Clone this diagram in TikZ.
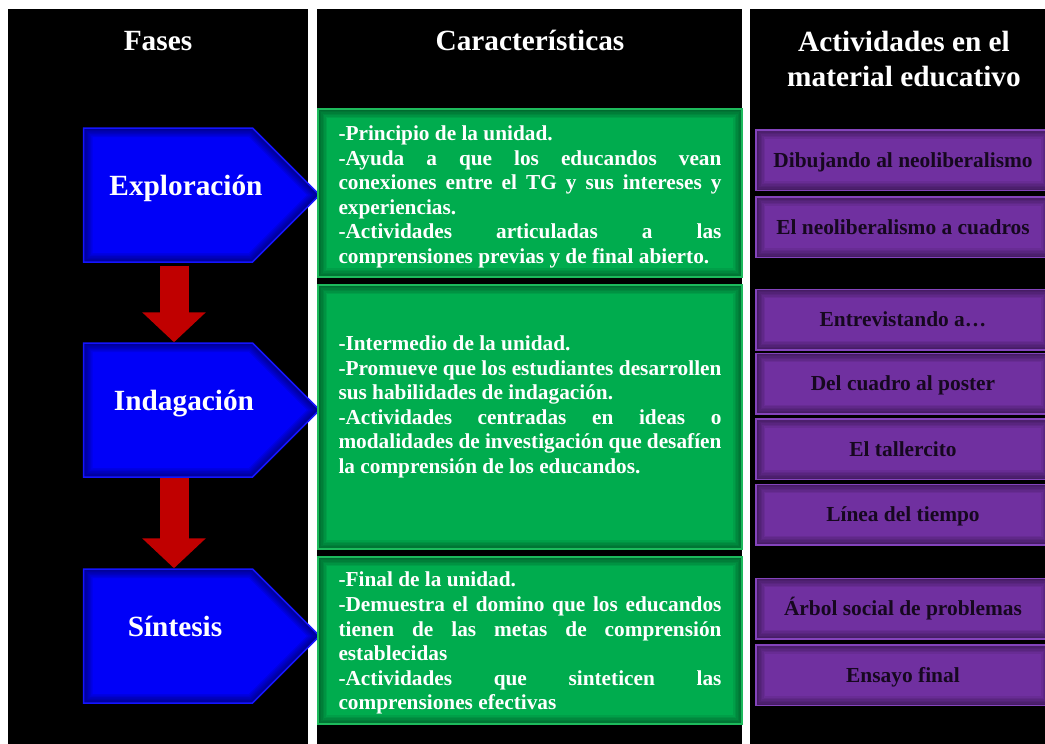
\documentclass[tikz,border=0pt]{standalone}
\usepackage{fontspec}
\setmainfont{Liberation Serif}
\usetikzlibrary{shapes.symbols,arrows.meta}

\definecolor{faseazul}{HTML}{0000F8}
\definecolor{fasebordo}{HTML}{1414FF}
\definecolor{carverde}{HTML}{00AC4E}
\definecolor{carbordo}{HTML}{1DBA5C}
\definecolor{actmorado}{HTML}{7030A0}
\definecolor{actbordo}{HTML}{8444BC}
\definecolor{acttexto}{HTML}{16081F}
\definecolor{flecharoja}{HTML}{C00000}

\tikzset{
  glow/.style={path picture={
      \foreach \k in {1,...,6}
        \draw[black, opacity=.07, line width=\k*3pt]
          (path picture bounding box.south west) rectangle (path picture bounding box.north east);}},
  faseglow/.style={path picture={
      \foreach \k in {1,...,6}
        \draw[black, opacity=.08, line width=\k*3pt]
          (path picture bounding box.north west) -- ([xshift=-67pt]path picture bounding box.north east)
          -- (path picture bounding box.east) -- ([xshift=-67pt]path picture bounding box.south east)
          -- (path picture bounding box.south west) -- cycle;}},
  titulo/.style={text=white, anchor=base, font=\fontsize{29.3}{35}\selectfont\bfseries},
  fase/.style={signal, signal to=east, signal pointer angle=90, minimum width=236pt,
    minimum height=134pt, fill=faseazul, draw=fasebordo, line width=1.5pt, faseglow},
  fasetxt/.style={text=white, anchor=base, font=\fontsize{29.3}{35}\selectfont\bfseries},
  bajada/.style={flecharoja, line width=29pt, -{Triangle[width=62pt,length=30pt]}},
  carbox/.style={fill=carverde, draw=carbordo, line width=1.5pt, glow, minimum width=424pt,
    text=white, text width=383pt, align=justify, font=\fontsize{21.3}{24.6}\selectfont\bfseries},
  actbox/.style={fill=actmorado, draw=actbordo, line width=1.5pt, glow, minimum width=294pt,
    minimum height=60.5pt, text=acttexto, text height=14pt, text depth=0pt,
    font=\fontsize{21.4}{25}\selectfont\bfseries}
}

\begin{document}
\begin{tikzpicture}[x=1pt,y=-1pt]
  \useasboundingbox (0,0) rectangle (1045,744);
  \clip (0,0) rectangle (1045,744);
  \fill[white] (0,0) rectangle (1045,744);
  \fill[black] (8,9) rectangle (308,744);
  \fill[black] (317,9) rectangle (742,744);
  \fill[black] (750,9) rectangle (1045,744);

  \node[titulo] (fases) at (158,50) {Fases};
  \node[titulo] (caracteristicas) at (530,50) {Características};
  \node[titulo, align=center] (actividades) at (904,86) {Actividades en el\\material educativo};

  \node[fase] (exploracion) at (168,195) {};
  \node[fase] (indagacion) at (168,410) {};
  \node[fase] (sintesis) at (168,636) {};
  \node[fasetxt] (exploracion-txt) at (186,195) {Exploración};
  \node[fasetxt] (indagacion-txt) at (184,410) {Indagación};
  \node[fasetxt] (sintesis-txt) at (175,636) {Síntesis};

  \draw[bajada] ([xshift=6pt,yshift=-3pt]exploracion.south) to ([xshift=6pt]indagacion.north);
  \draw[bajada] ([xshift=6pt]indagacion.south) to ([xshift=6pt]sintesis.north);

  \hyphenpenalty=10000
  \node[carbox, minimum height=168pt] (car-exploracion) at (530,193) {\rule{0pt}{22.5pt}-Principio de la unidad.\par
    -Ayuda a que los educandos vean\linebreak conexiones entre el TG y sus intereses y\linebreak experiencias.\par
    -Actividades articuladas a las\linebreak comprensiones previas y de final abierto.};
  \node[carbox, minimum height=264pt] (car-indagacion) at (530,417) {-Intermedio de la unidad.\par
    -Promueve que los estudiantes desarrollen\linebreak sus habilidades de indagación.\par
    -Actividades centradas en ideas o\linebreak modalidades de investigación que desafíen\linebreak la comprensión de los educandos.\par\mbox{}};
  \node[carbox, minimum height=167pt] (car-sintesis) at (530,640.5) {\rule{0pt}{20.5pt}-Final de la unidad.\par
    -Demuestra el domino que los educandos\linebreak tienen de las metas de comprensión\linebreak establecidas\par
    -Actividades que sinteticen las\linebreak comprensiones efectivas};

  \foreach \y/\nombre/\texto in {160/dibujando/Dibujando al neoliberalismo,
      227/cuadros/El neoliberalismo a cuadros, 319.5/entrevistando/Entrevistando a…,
      383.5/poster/Del cuadro al poster, 449/tallercito/El tallercito,
      514.5/linea/Línea del tiempo, 608.5/arbol/Árbol social de problemas, 675/ensayo/Ensayo final}
    \node[actbox] (\nombre) at (903,\y) {\texto};
\end{tikzpicture}
\end{document}
